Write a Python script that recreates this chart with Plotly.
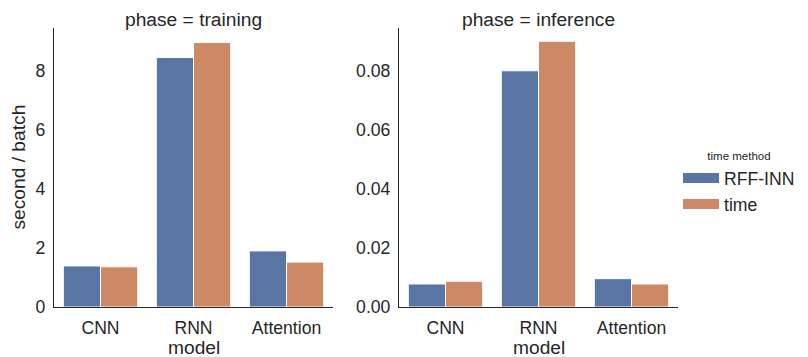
import plotly.graph_objects as go

# ---- data ----
models = ["CNN", "RNN", "Attention"]
methods = ["RFF-INN", "time"]
training_rff = [1.39, 8.45, 1.90]
training_time = [1.36, 8.96, 1.52]
inference_rff = [0.0078, 0.0800, 0.0096]
inference_time = [0.0087, 0.0900, 0.0078]
phases = ["training", "inference"]

colors = {"RFF-INN": "#5875a4", "time": "#cc8963"}
ink = "#262626"
font_family = "Liberation Sans, Arial, sans-serif"

fig = go.Figure()

series = {
    ("training", "RFF-INN"): training_rff,
    ("training", "time"): training_time,
    ("inference", "RFF-INN"): inference_rff,
    ("inference", "time"): inference_time,
}

for i, ph in enumerate(phases):
    xa = "x" if i == 0 else "x2"
    ya = "y" if i == 0 else "y2"
    for m in methods:
        fig.add_trace(go.Bar(
            x=models, y=series[(ph, m)], name=m,
            marker=dict(color=colors[m], line=dict(color="white", width=1)),
            xaxis=xa, yaxis=ya, showlegend=False, offsetgroup=m,
        ))

# legend entries as wide patches
for m in methods:
    fig.add_trace(go.Scatter(
        x=[None], y=[None], mode="lines", name=m,
        line=dict(color=colors[m], width=11), xaxis="x", yaxis="y",
    ))

# page body adds an 8px offset at the top-left
W, H = 800, 349
ml, mr, mt, mb = 46, 130, 20, 50
pw = W - ml - mr

axis_common = dict(
    showline=True, linecolor=ink, linewidth=1.25, showgrid=False,
    zeroline=False, ticks="", mirror=False, automargin=False,
    tickfont=dict(size=17.6, color=ink, family=font_family),
)

title_font = dict(size=19.2, color=ink, family=font_family)

fig.update_layout(
    width=W, height=H,
    margin=dict(l=ml, r=mr, t=mt, b=mb, autoexpand=False),
    plot_bgcolor="white", paper_bgcolor="white",
    barmode="group", bargap=0.2, bargroupgap=0,
    font=dict(family=font_family, color=ink),
    xaxis=dict(domain=[0, 279 / pw], range=[-0.5, 2.5], anchor="y",
               ticklabelstandoff=5, **axis_common),
    yaxis=dict(domain=[0, 1], range=[0, 9.45], anchor="x",
               tickvals=[0, 2, 4, 6, 8],
               ticklabelstandoff=4, **axis_common),
    xaxis2=dict(domain=[(399 - 54) / pw, 1], range=[-0.5, 2.5], anchor="y2",
                ticklabelstandoff=5, **axis_common),
    yaxis2=dict(domain=[0, 1], range=[0, 0.0945], anchor="x2",
                tickvals=[0, 0.02, 0.04, 0.06, 0.08], tickformat=".2f",
                ticklabelstandoff=4, **axis_common),
    legend=dict(
        x=1.0, xanchor="left", y=0.442, yanchor="middle", itemwidth=36,
        title=dict(text="time method", font=dict(size=11.5, color=ink), side="top center"),
        font=dict(size=17.6, color=ink), bgcolor="rgba(0,0,0,0)",
    ),
    annotations=[
        dict(text="phase = " + phases[0], xref="x domain", yref="y domain",
             x=0.5, y=1, xanchor="center", yanchor="bottom", yshift=-4, showarrow=False,
             font=title_font),
        dict(text="phase = " + phases[1], xref="x2 domain", yref="y2 domain",
             x=0.5, y=1, xanchor="center", yanchor="bottom", yshift=-4, showarrow=False,
             font=title_font),
        # axis titles
        dict(text="model", xref="x domain", yref="y domain",
             x=0.5, y=0, xanchor="center", yanchor="middle", yshift=-40, showarrow=False,
             font=title_font),
        dict(text="model", xref="x2 domain", yref="y2 domain",
             x=0.5, y=0, xanchor="center", yanchor="middle", yshift=-40, showarrow=False,
             font=title_font),
        dict(text="second / batch", xref="x domain", yref="y domain",
             x=0, y=0.5, xanchor="center", yanchor="middle", xshift=-36, textangle=-90,
             showarrow=False, font=title_font),
    ],
)

fig.write_html("out.html")
